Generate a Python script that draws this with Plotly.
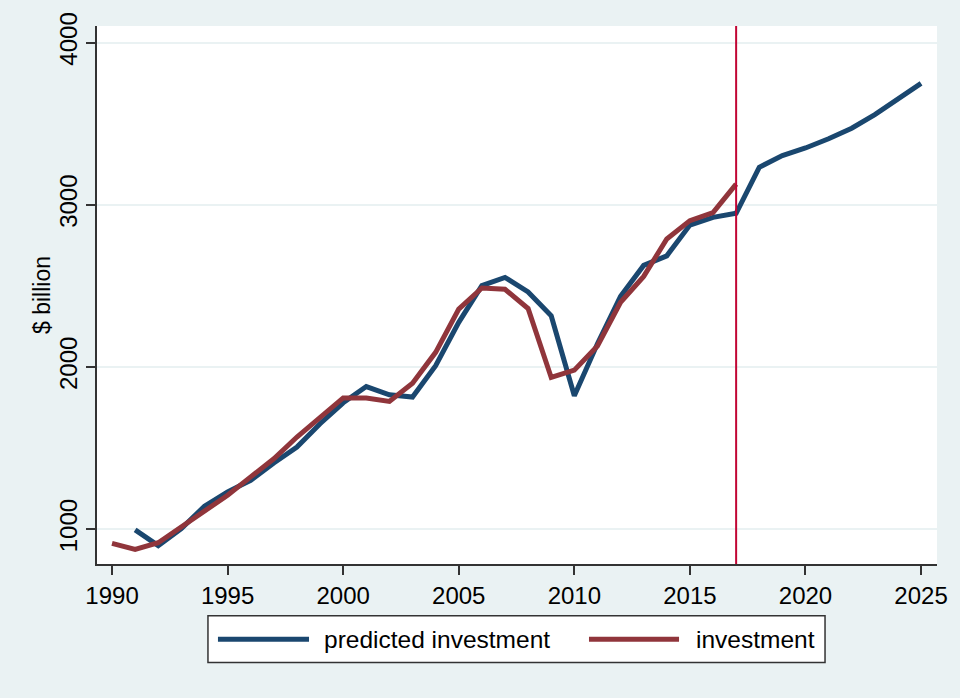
import plotly.graph_objects as go

years_pred = list(range(1991, 2026))
predicted = [995, 898, 1004, 1141, 1230, 1301, 1408, 1506, 1650, 1779,
             1879, 1828, 1814, 2008, 2275, 2501, 2552, 2462, 2315, 1822,
             2143, 2436, 2626, 2685, 2875, 2922, 2947, 3231, 3303, 3350,
             3407, 3472, 3556, 3652, 3748]

years_inv = list(range(1990, 2018))
investment = [912, 875, 916, 1014, 1111, 1209, 1322, 1434, 1568, 1690,
              1809, 1809, 1787, 1900, 2090, 2357, 2487, 2479, 2360, 1935,
              1980, 2129, 2399, 2558, 2789, 2902, 2951, 3127]

x_ticks = [1990, 1995, 2000, 2005, 2010, 2015, 2020, 2025]
y_ticks = [1000, 2000, 3000, 4000]
cutoff_year = 2017

BLUE = "#1a476f"
RED = "#90353b"
BG = "#eaf2f3"
AX = "#333333"
FONT = "Liberation Sans, Arial, sans-serif"

fig = go.Figure()
fig.add_trace(go.Scatter(x=years_pred, y=predicted, mode="lines",
                         line=dict(color=BLUE, width=5), name="predicted investment",
                         showlegend=False, hoverinfo="skip"))
fig.add_trace(go.Scatter(x=years_inv, y=investment, mode="lines",
                         line=dict(color=RED, width=5), name="investment",
                         showlegend=False, hoverinfo="skip"))

fig.add_shape(type="line", x0=cutoff_year, x1=cutoff_year, y0=0, y1=1,
              xref="x", yref="paper", line=dict(color="#c10534", width=2))

# custom legend
fig.add_shape(type="rect", xref="paper", yref="paper",
              x0=0.1321, x1=0.8667, y0=-0.1833, y1=-0.0963,
              fillcolor="white", line=dict(color=AX, width=1.5))
fig.add_shape(type="line", xref="paper", yref="paper",
              x0=0.1440, x1=0.2524, y0=-0.1398, y1=-0.1398,
              line=dict(color=BLUE, width=5))
fig.add_shape(type="line", xref="paper", yref="paper",
              x0=0.5857, x1=0.6929, y0=-0.1398, y1=-0.1398,
              line=dict(color=RED, width=5))
fig.add_annotation(xref="paper", yref="paper", x=0.268, y=-0.1398,
                   text="predicted investment", showarrow=False,
                   xanchor="left", yanchor="middle",
                   font=dict(family=FONT, size=24.5, color="black"))
fig.add_annotation(xref="paper", yref="paper", x=0.711, y=-0.1398,
                   text="investment", showarrow=False,
                   xanchor="left", yanchor="middle",
                   font=dict(family=FONT, size=24.5, color="black"))

# y-axis title
fig.add_annotation(xref="paper", yref="paper", x=-0.0655, y=0.5,
                   text="$ billion", showarrow=False, textangle=-90,
                   xanchor="center", yanchor="middle",
                   font=dict(family=FONT, size=23, color="black"))

fig.update_layout(
    width=960, height=698,
    paper_bgcolor=BG, plot_bgcolor="white",
    margin=dict(l=97, r=22, t=24, b=134),
    font=dict(family=FONT, size=24, color="black"),
    showlegend=False,
)
fig.update_xaxes(range=[1989.35, 2025.69], tickvals=x_ticks,
                 showgrid=False, zeroline=False,
                 showline=True, linecolor=AX, linewidth=1.5,
                 ticks="outside", ticklen=9, tickcolor=AX, tickwidth=1.5,
                 tickfont=dict(size=24))
fig.update_yaxes(range=[785, 4102], tickvals=y_ticks, tickangle=-90,
                 showgrid=True, gridcolor=BG, gridwidth=2, zeroline=False,
                 showline=True, linecolor=AX, linewidth=1.5,
                 ticks="outside", ticklen=9, tickcolor=AX, tickwidth=1.5,
                 tickfont=dict(size=24))

fig.write_html("out.html", config={"displayModeBar": False},
               post_script="document.body.style.margin='0';document.body.style.overflow='hidden';")
